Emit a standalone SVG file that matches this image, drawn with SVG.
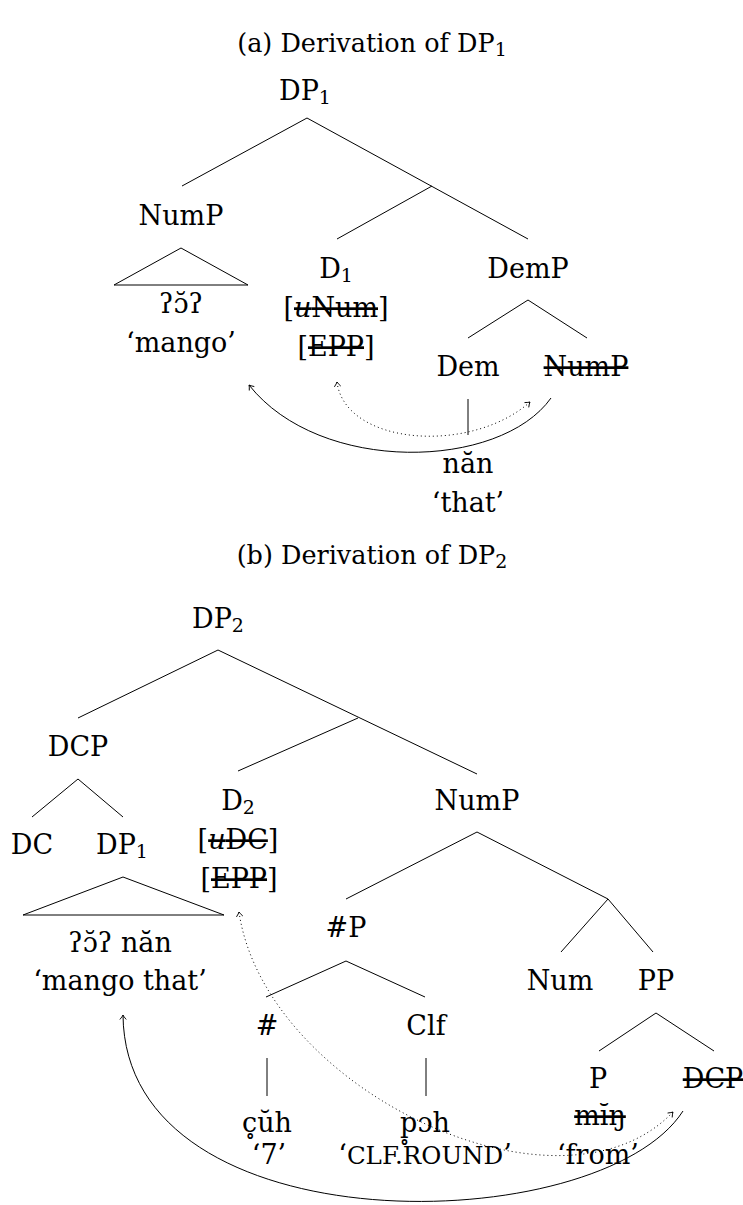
<svg xmlns="http://www.w3.org/2000/svg" width="743" height="1205" viewBox="0 0 743 1205">
<style>
.t{font-family:"DejaVu Serif","Liberation Serif",serif;font-size:27px;text-anchor:middle;fill:#000}
.title{font-size:25.5px}
.sub{font-size:19px}
.s{text-decoration:line-through}
.it{font-style:italic}
.sc{font-size:24.5px}
.ln{stroke:#000;stroke-width:1;fill:none}
.dot{stroke:#000;stroke-width:1;fill:none;stroke-dasharray:1 3}
</style>
<defs>
<marker id="ah" viewBox="-6 -5 8 10" markerWidth="8" markerHeight="10" markerUnits="userSpaceOnUse" orient="auto-start-reverse" refX="0" refY="0">
<path d="M-4.5,-3.2 Q-1.5,-0.6 0,0 Q-1.5,0.6 -4.5,3.2" stroke="#000" stroke-width="0.9" fill="none"/>
</marker>
</defs>
<rect width="743" height="1205" fill="#fff"/>

<g id="title-a"><text class="t title" x="372" y="52">(a) Derivation of DP<tspan class="sub" dy="4">1</tspan></text></g>
<g id="title-b"><text class="t title" x="372" y="564">(b) Derivation of DP<tspan class="sub" dy="4">2</tspan></text></g>

<g id="connectors">
<!-- tree (a) -->
<line class="ln" x1="307" y1="118" x2="182" y2="186"/>
<line class="ln" x1="307" y1="118" x2="528" y2="239"/>
<line class="ln" x1="432" y1="186" x2="337" y2="239"/>
<polygon class="ln" points="181,248 114,285 248,285"/>
<line class="ln" x1="528" y1="300" x2="468" y2="338"/>
<line class="ln" x1="528" y1="300" x2="587" y2="338"/>
<line class="ln" x1="468" y1="399" x2="468" y2="435"/>
<path class="ln" d="M551,398 C500,470 320,475 249,385" marker-end="url(#ah)"/>
<path class="dot" d="M337,382 C345,445 470,455 530,402" marker-start="url(#ah)" marker-end="url(#ah)"/>
<!-- tree (b) -->
<line class="ln" x1="218" y1="650" x2="78" y2="718"/>
<line class="ln" x1="218" y1="650" x2="477" y2="774"/>
<line class="ln" x1="358" y1="718" x2="238" y2="771"/>
<line class="ln" x1="78" y1="779" x2="32" y2="817"/>
<line class="ln" x1="78" y1="779" x2="123" y2="817"/>
<polygon class="ln" points="123,877 23,915 224,915"/>
<line class="ln" x1="477" y1="832" x2="346" y2="899"/>
<line class="ln" x1="477" y1="832" x2="608" y2="899"/>
<line class="ln" x1="608" y1="899" x2="561" y2="952"/>
<line class="ln" x1="608" y1="899" x2="653" y2="952"/>
<line class="ln" x1="346" y1="961" x2="266" y2="997"/>
<line class="ln" x1="346" y1="961" x2="425" y2="997"/>
<line class="ln" x1="267" y1="1058" x2="267" y2="1096"/>
<line class="ln" x1="426" y1="1058" x2="426" y2="1096"/>
<line class="ln" x1="656" y1="1013" x2="599" y2="1051"/>
<line class="ln" x1="656" y1="1013" x2="714" y2="1051"/>
<path class="ln" d="M683,1111 C600,1240 125,1250 123,1015" marker-end="url(#ah)"/>
<path class="dot" d="M239,912 C265,1090 560,1230 673,1112" marker-start="url(#ah)" marker-end="url(#ah)"/>
</g>

<!-- nodes (a) -->
<g id="a-DP1"><text class="t" x="305" y="100">DP<tspan class="sub" dy="4">1</tspan></text></g>
<g id="a-NumP"><text class="t" x="181" y="225">NumP</text></g>
<g id="a-NumP-leaf"><text class="t" x="181" y="313">ʔɔ̆ʔ</text><text class="t" x="181" y="352">‘mango’</text></g>
<g id="a-D1">
<text class="t" x="336" y="278">D<tspan class="sub" dy="4">1</tspan></text>
<text class="t" x="336" y="317">[<tspan class="s it">u</tspan><tspan class="s">Num</tspan>]</text>
<text class="t" x="336" y="356">[<tspan class="s">EPP</tspan>]</text>
</g>
<g id="a-DemP"><text class="t" x="528" y="278">DemP</text></g>
<g id="a-Dem"><text class="t" x="468" y="376">Dem</text></g>
<g id="a-NumP-trace"><text class="t s" x="586" y="376">NumP</text></g>
<g id="a-Dem-leaf"><text class="t" x="468" y="473">năn</text><text class="t" x="468" y="512">‘that’</text></g>

<!-- nodes (b) -->
<g id="b-DP2"><text class="t" x="218" y="628">DP<tspan class="sub" dy="4">2</tspan></text></g>
<g id="b-DCP"><text class="t" x="78" y="756">DCP</text></g>
<g id="b-DC"><text class="t" x="32" y="854">DC</text></g>
<g id="b-DP1"><text class="t" x="122" y="854">DP<tspan class="sub" dy="4">1</tspan></text></g>
<g id="b-DP1-leaf"><text class="t" x="120" y="952">ʔɔ̆ʔ năn</text><text class="t" x="120" y="990">‘mango that’</text></g>
<g id="b-D2">
<text class="t" x="238" y="810">D<tspan class="sub" dy="4">2</tspan></text>
<text class="t" x="238" y="849">[<tspan class="s it">u</tspan><tspan class="s">DC</tspan>]</text>
<text class="t" x="239" y="888">[<tspan class="s">EPP</tspan>]</text>
</g>
<g id="b-NumP"><text class="t" x="477" y="810">NumP</text></g>
<g id="b-hashP"><text class="t" x="346" y="937">#P</text></g>
<g id="b-hash"><text class="t" x="267" y="1035">#</text></g>
<g id="b-Clf"><text class="t" x="426" y="1035">Clf</text></g>
<g id="b-hash-leaf"><text class="t" x="267" y="1132">c̥ŭh</text><text class="t" x="269" y="1164">‘7’</text></g>
<g id="b-Clf-leaf"><text class="t" x="425" y="1132">p̥ɔh</text><text class="t" x="425" y="1164">‘<tspan class="sc">CLF.ROUND</tspan>’</text></g>
<g id="b-Num"><text class="t" x="560" y="990">Num</text></g>
<g id="b-PP"><text class="t" x="656" y="990">PP</text></g>
<g id="b-P"><text class="t" x="598" y="1088">P</text></g>
<g id="b-DCP-trace"><text class="t s" x="713" y="1088">DCP</text></g>
<g id="b-P-leaf"><text class="t s" x="600" y="1125">mĭŋ</text><text class="t" x="598" y="1164">‘from’</text></g>
</svg>
